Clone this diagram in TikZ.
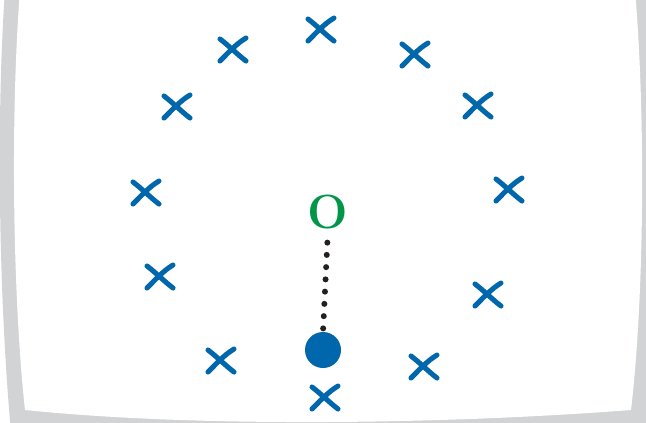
\documentclass[tikz,border=0pt]{standalone}
\usetikzlibrary{positioning}
\definecolor{framegray}{RGB}{209,211,212}
\definecolor{markblue}{RGB}{0,103,172}
\definecolor{labelgreen}{RGB}{0,150,72}
\definecolor{dotdark}{RGB}{35,31,32}
\tikzset{
  xmark/.pic={
    \draw[markblue, line width=3.8pt, line cap=round]
      (-13,-11) .. controls (-5,-5) and (5,5) .. (13,11)
      (13,-12) .. controls (3,-6) and (-5,3) .. (-13,11);},
  centrelabel/.style={text=labelgreen, font=\fontsize{36}{36}\selectfont\bfseries, inner sep=0pt},
  chargedot/.style={circle, fill=markblue, minimum size=27pt, inner sep=0pt},
  dotline/.style={dotdark, line width=4.5pt, line cap=round, dash pattern=on 0pt off 9.2pt}
}
\begin{document}
\begin{tikzpicture}[x=0.75pt, y=-0.75pt]
  \useasboundingbox (0,0) rectangle (646,422);
  % sheet with curved edges
  \fill[framegray] (5,-10) .. controls (-4,120) and (-1,300) .. (11,432)
    -- (660,432) -- (660,-10) -- cycle;
  \fill[white] (20,-10) .. controls (10,120) and (13,300) .. (25,410)
    .. controls (200,428) and (450,424) .. (631,410)
    .. controls (644,300) and (646,120) .. (635,-10) -- cycle;

  % ring of marks
  \foreach \px/\py [count=\i] in {321/30, 233/50, 415/55, 177/107, 478/106,
      146/193, 509/190, 160/277, 488/295, 221/361, 424/367, 325/398}
    \coordinate (x\i) at (\px,\py);
  \foreach \i in {1,...,12}
    \pic at (x\i) {xmark};

  \node[centrelabel] (O) at (328,212) {O};
  \node[chargedot] (dot) at (323,350) {};
  \draw[dotline, shorten <=10pt, shorten >=1.5pt] (O.south) -- (dot.north);
\end{tikzpicture}
\end{document}
